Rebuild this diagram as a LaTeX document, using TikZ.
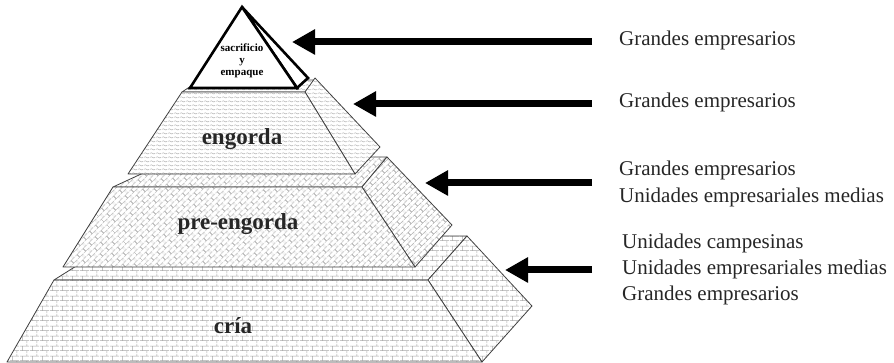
\documentclass[tikz,border=0pt]{standalone}
\usepackage{fontspec}
\setmainfont{Liberation Serif}
\usetikzlibrary{arrows.meta,patterns.meta}

\tikzdeclarepattern{
  name=hbricks, type=uncolored,
  bounding box={(0pt,0pt) and (10pt,10pt)},
  tile size={(10pt,10pt)},
  code={
    \draw[line width=0.6pt] (0pt,2.5pt) -- (10pt,2.5pt) (0pt,7.5pt) -- (10pt,7.5pt)
      (2.5pt,2.5pt) -- (2.5pt,7.5pt) (7.5pt,7.5pt) -- (7.5pt,10pt) (7.5pt,0pt) -- (7.5pt,2.5pt);
  }
}
\tikzdeclarepattern{
  name=dbricks, type=uncolored,
  bounding box={(0pt,0pt) and (8pt,8pt)},
  tile size={(8pt,8pt)},
  tile transformation={rotate=45},
  code={
    \draw[line width=0.6pt] (0pt,2pt) -- (8pt,2pt) (0pt,6pt) -- (8pt,6pt)
      (2pt,2pt) -- (2pt,6pt) (6pt,6pt) -- (6pt,8pt) (6pt,0pt) -- (6pt,2pt);
  }
}
\tikzdeclarepattern{
  name=waves, type=uncolored,
  bounding box={(0pt,0pt) and (6pt,4pt)},
  tile size={(6pt,4pt)},
  code={
    \draw[line width=0.5pt] (0pt,2pt) sin (1.5pt,2.8pt) cos (3pt,2pt) sin (4.5pt,1.2pt) cos (6pt,2pt);
  }
}

\tikzset{
  face/.style={preaction={fill=white}, pattern color=black!35, draw=black!75, line width=0.8pt, line join=round},
  criaface/.style={face, pattern=hbricks},
  preface/.style={face, pattern=dbricks},
  engface/.style={face, pattern=waves},
  topface/.style={fill=white, draw=black, line width=2.6pt, line join=miter},
  tierlabel/.style={font=\fontsize{23}{23}\selectfont\bfseries, text=black!85, inner sep=0pt, anchor=base},
  toplabel/.style={font=\fontsize{11}{11}\selectfont\bfseries, inner sep=0pt, anchor=base},
  sidelabel/.style={font=\fontsize{21}{21}\selectfont, text=black!85, inner sep=0pt, anchor=base west},
  bigarrow/.style={line width=7pt, draw=black, -{Triangle[length=23pt,width=24pt]}}
}

\begin{document}
\begin{tikzpicture}[x=1pt,y=-1pt]
\useasboundingbox (0,0) rectangle (894,363);

% ---- cria ----
\path[criaface] (54,280) -- (428,280) -- (467,236) -- (124,236) -- cycle;
\path[criaface] (428,280) -- (467,236) -- (532,306) -- (482,362) -- cycle;
\path[criaface] (7,362) -- (482,362) -- (428,280) -- (54,280) -- cycle;

% ---- pre-engorda ----
\path[preface] (113,187) -- (362,187) -- (387,157) -- (178,157) -- cycle;
\path[preface] (362,187) -- (387,157) -- (452,225) -- (415,267) -- cycle;
\path[preface] (63,267) -- (415,267) -- (362,187) -- (113,187) -- cycle;

% ---- engorda ----
\path[engface] (182,92) -- (305,92) -- (315,80) -- (200,80) -- cycle;
\path[engface] (305,92) -- (315,78) -- (380,147) -- (355,174) -- cycle;
\path[engface] (128,174) -- (355,174) -- (305,92) -- (182,92) -- cycle;

% ---- sacrificio y empaque ----
\path[topface] (242,7) -- (308,78) -- (297,88) -- cycle;
\path[topface] (242,7) -- (297,88) -- (190,88) -- cycle;

% tier labels
\node[toplabel] (sac) at (242,52) {sacrificio};
\node[toplabel] (yy) at (242,64) {y};
\node[toplabel] (emp) at (242,76) {empaque};
\node[tierlabel] (eng) at (242,145) {engorda};
\node[tierlabel] (pre) at (238,230) {pre-engorda};
\node[tierlabel] (cri) at (233,334) {cría};

% side labels
\node[sidelabel] (l1) at (619,46) {Grandes empresarios};
\node[sidelabel] (l2) at (619,108) {Grandes empresarios};
\node[sidelabel] (l3a) at (619,176) {Grandes empresarios};
\node[sidelabel] (l3b) at (619,203) {Unidades empresariales medias};
\node[sidelabel] (l4a) at (622,249) {Unidades campesinas};
\node[sidelabel] (l4b) at (622,275) {Unidades empresariales medias};
\node[sidelabel] (l4c) at (622,301) {Grandes empresarios};

% arrows
\coordinate (s1) at (592,42);  \coordinate (t1) at (292,42);
\coordinate (s2) at (592,104); \coordinate (t2) at (353,104);
\coordinate (s3) at (592,183); \coordinate (t3) at (425,183);
\coordinate (s4) at (592,270); \coordinate (t4) at (505,270);
\draw[bigarrow] (s1) -- (t1);
\draw[bigarrow] (s2) -- (t2);
\draw[bigarrow] (s3) -- (t3);
\draw[bigarrow] (s4) -- (t4);
\end{tikzpicture}
\end{document}
